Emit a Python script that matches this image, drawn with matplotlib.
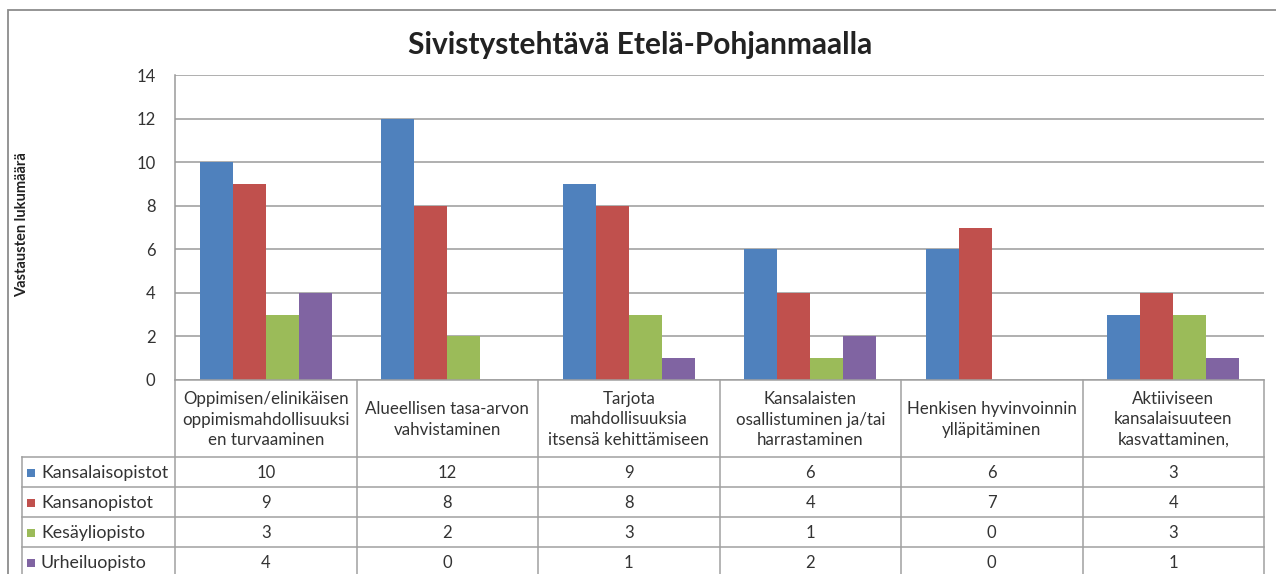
import matplotlib
matplotlib.use("Agg")
import matplotlib.pyplot as plt
import numpy as np
from matplotlib.transforms import blended_transform_factory
from matplotlib.patches import Rectangle
from matplotlib.lines import Line2D

title = "Sivistystehtävä Etelä-Pohjanmaalla"
ylabel = "Vastausten lukumäärä"
categories = [
    "Oppimisen/elinikäisen\noppimismahdollisuuksi\nen turvaaminen",
    "Alueellisen tasa-arvon\nvahvistaminen",
    "Tarjota\nmahdollisuuksia\nitsensä kehittämiseen",
    "Kansalaisten\nosallistuminen ja/tai\nharrastaminen",
    "Henkisen hyvinvoinnin\nylläpitäminen",
    "Aktiiviseen\nkansalaisuuteen\nkasvattaminen,",
]
series_names = ["Kansalaisopistot", "Kansanopistot", "Kesäyliopisto", "Urheiluopisto"]
kansalaisopistot = [10, 12, 9, 6, 6, 3]
kansanopistot = [9, 8, 8, 4, 7, 4]
kesayliopisto = [3, 2, 3, 1, 0, 3]
urheiluopisto = [4, 0, 1, 2, 0, 1]
series_values = [kansalaisopistot, kansanopistot, kesayliopisto, urheiluopisto]
colors = ["#4F81BD", "#C0504D", "#9BBB59", "#8064A2"]
yticks = [0, 2, 4, 6, 8, 10, 12, 14]

W, H = 1276, 574
plt.rcParams["font.family"] = ["Lato", "DejaVu Sans"]
fig = plt.figure(figsize=(W / 100, H / 100), dpi=100)

def fx(px):
    return px / W

def fy(py):
    return 1 - py / H

# plot area in pixels
L, R, T, B = 175, 1264, 75, 380
ax = fig.add_axes([fx(L), fy(B), fx(R) - fx(L), fy(T) - fy(B)])
n = len(categories)
x = np.arange(n)
bw = 1 / 5.5
for i, (vals, c) in enumerate(zip(series_values, colors)):
    ax.bar(x + (i - 1.5) * bw, vals, width=bw, color=c, zorder=3, linewidth=0)
ax.set_xlim(-0.5, n - 0.5)
ax.set_ylim(0, 14)
ax.set_yticks(yticks)
ax.set_yticklabels([str(t) for t in yticks], fontsize=12, color="#333333")
ax.tick_params(axis="y", length=0, pad=14)
ax.set_xticks([])
ax.grid(axis="y", color="#9a9a9a", linewidth=1.1, zorder=0)
for s in ["top", "right", "bottom"]:
    ax.spines[s].set_visible(False)
ax.spines["left"].set_color("#9a9a9a")
ax.spines["left"].set_linewidth(1.1)

# title and ylabel
fig.text(fx(640), fy(45), title, ha="center", va="center", fontsize=21.5,
         fontweight="bold", color="#222222")
fig.text(fx(22), fy(225), ylabel, ha="center", va="center", rotation=90,
         fontsize=10.5, fontweight="bold", color="#222222")

# outer border
fig.add_artist(Rectangle((fx(8), fy(H + 20)), fx(W + 20) - fx(8), fy(10) - fy(H + 20),
                         transform=fig.transFigure, fill=False, edgecolor="#8c8c8c",
                         linewidth=1.3))

# data table
tr = blended_transform_factory(ax.transData, fig.transFigure)
gc = "#a0a0a0"
lw = 1.1
header_top, header_bot = 380, 457
row_h = 30
row_tops = [header_bot + i * row_h for i in range(len(series_names))]
table_bottom = H + 5
for k in range(n + 1):
    xv = k - 0.5
    fig.add_artist(Line2D([xv, xv], [fy(header_top), fy(table_bottom)], transform=tr,
                          color=gc, linewidth=lw))
fig.add_artist(Line2D([fx(22), fx(22)], [fy(header_bot), fy(table_bottom)],
                      transform=fig.transFigure, color=gc, linewidth=lw))
fig.add_artist(Line2D([-0.5, n - 0.5], [fy(header_top), fy(header_top)], transform=tr,
                      color=gc, linewidth=lw))
for rt in row_tops:
    fig.add_artist(Line2D([fx(22), fx(R)], [fy(rt), fy(rt)], transform=fig.transFigure,
                          color=gc, linewidth=lw))
for k, cat in enumerate(categories):
    fig.text(k, fy((header_top + header_bot) / 2 + 1), cat, transform=tr,
             ha="center", va="center", fontsize=12.2, color="#333333",
             linespacing=1.35)
for i, (name, vals, c) in enumerate(zip(series_names, series_values, colors)):
    yc = fy(row_tops[i] + row_h / 2 + 1)
    fig.add_artist(Rectangle((fx(27), yc - (8 / H) / 2), fx(8), 8 / H,
                             transform=fig.transFigure, facecolor=c, edgecolor="none"))
    fig.text(fx(41), yc, name, ha="left", va="center", fontsize=12.8, color="#333333")
    for k, v in enumerate(vals):
        fig.text(k, yc, str(v), transform=tr, ha="center", va="center",
                 fontsize=12, color="#333333")

fig.savefig("out.png", dpi=100)
